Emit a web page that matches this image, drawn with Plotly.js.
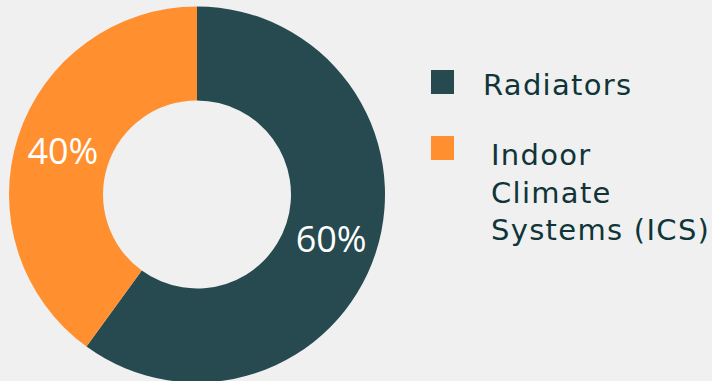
<!DOCTYPE html>
<html>
<head>
<meta charset="utf-8">
<script src="https://cdn.plot.ly/plotly-3.0.1.min.js"></script>
<style>
  html, body { margin: 0; padding: 0; background: #f0f0f0; overflow: hidden; }
  #chart { width: 712px; height: 390px; }
  #chart .annotation-text { letter-spacing: 1.3px; }
</style>
</head>
<body>
<div id="chart"></div>
<script>
// Share of heat emitters
const labels = ['Radiators', 'Indoor Climate Systems (ICS)'];
const legendText = ['Radiators', 'Indoor<br>Climate<br>Systems (ICS)'];
const values = [60, 40];
const colors = ['#264a4f', '#ff8f2f'];

const W = 712, H = 390;
const FONT = '"Open Sans", "DejaVu Sans", sans-serif';
const LEGEND_FONT = '"DejaVu Sans", sans-serif';
const px = x => x / W;
const py = y => 1 - y / H;

const trace = {
  type: 'pie',
  labels: labels,
  values: values,
  hole: 0.5,
  sort: false,
  direction: 'clockwise',
  rotation: 0,
  marker: { colors: colors, line: { width: 0 } },
  textinfo: 'percent',
  texttemplate: '%{percent:.0%}',
  textposition: 'inside',
  insidetextorientation: 'horizontal',
  insidetextfont: { color: '#ffffff', size: 36, family: FONT },
  hoverinfo: 'label+percent',
  showlegend: false,
  domain: { x: [px(9), px(385)], y: [1 - 382.5 / H, 1 - 6.5 / H] }
};

// Legend: colour swatch plus label for each category
const shapes = [];
const annotations = [];
const rowTop = [70, 136];
const textY = [85, 192];
const textX = [481, 489];
labels.forEach((lab, i) => {
  shapes.push({
    type: 'rect', xref: 'paper', yref: 'paper',
    x0: px(431), x1: px(454), y0: py(rowTop[i] + 24), y1: py(rowTop[i]),
    fillcolor: colors[i], line: { width: 0 }
  });
  annotations.push({
    xref: 'paper', yref: 'paper',
    x: px(textX[i]), y: py(textY[i]),
    xanchor: 'left', yanchor: 'middle', align: 'left',
    text: legendText[i], showarrow: false,
    font: { family: LEGEND_FONT, size: 29, color: '#0f3538' }
  });
});

const layout = {
  width: W, height: H,
  margin: { l: 0, r: 0, t: 0, b: 0 },
  paper_bgcolor: '#f0f0f0',
  plot_bgcolor: '#f0f0f0',
  showlegend: false,
  shapes: shapes,
  annotations: annotations
};

Plotly.newPlot('chart', [trace], layout, { displayModeBar: false, staticPlot: true });
</script>
</body>
</html>
